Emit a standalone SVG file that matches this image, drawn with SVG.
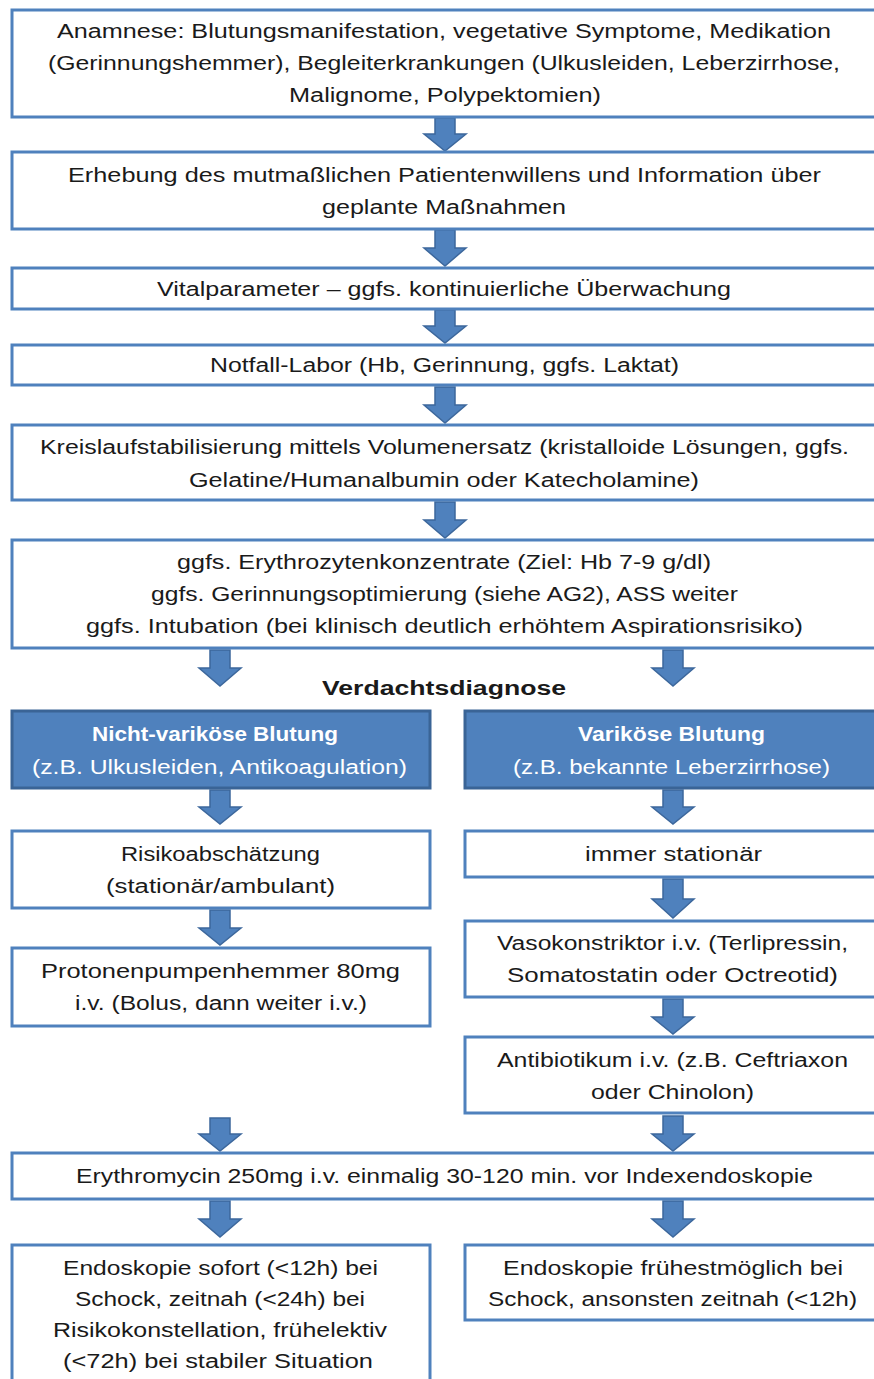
<svg xmlns="http://www.w3.org/2000/svg" width="874" height="1379" viewBox="0 0 874 1379">
<style>
.box{fill:#ffffff;stroke:#4f81bd;stroke-width:3}
.fbox{fill:#4f81bd;stroke:#3a6496;stroke-width:3}
.arr{fill:#4f81bd;stroke:#3c679c;stroke-width:1.5;stroke-linejoin:miter}
text{font-family:"Liberation Sans",Arial,sans-serif;font-size:20px;fill:#1a1a1a;text-anchor:middle}
.w{fill:#ffffff}
.b{font-weight:bold}
</style>
<rect width="874" height="1379" fill="#ffffff"/>
<g id="connectors">
<path class="arr" d="M435,118H455V134H466L445,151L424,134H435Z"/>
<path class="arr" d="M435,230H455V248H466L445,266L424,248H435Z"/>
<path class="arr" d="M435,310H455V326H466L445,343L424,326H435Z"/>
<path class="arr" d="M435,387H455V405H466L445,423L424,405H435Z"/>
<path class="arr" d="M435,502H455V520H466L445,538L424,520H435Z"/>
<path class="arr" d="M210,650H230V668H241L220,686L199,668H210Z"/>
<path class="arr" d="M663,650H683V668H694L673,686L652,668H663Z"/>
<path class="arr" d="M210,790H230V807H241L220,824L199,807H210Z"/>
<path class="arr" d="M663,790H683V807H694L673,824L652,807H663Z"/>
<path class="arr" d="M210,910H230V928H241L220,945L199,928H210Z"/>
<path class="arr" d="M663,879H683V899H694L673,918L652,899H663Z"/>
<path class="arr" d="M663,999H683V1017H694L673,1034L652,1017H663Z"/>
<path class="arr" d="M210,1118H230V1134H241L220,1151L199,1134H210Z"/>
<path class="arr" d="M663,1116H683V1134H694L673,1151L652,1134H663Z"/>
<path class="arr" d="M210,1201H230V1219H241L220,1237L199,1219H210Z"/>
<path class="arr" d="M663,1201H683V1219H694L673,1237L652,1219H663Z"/>
</g>
<g id="n1">
<rect class="box" x="12" y="10" width="872" height="107"/>
<text x="444" y="38" textLength="774" lengthAdjust="spacingAndGlyphs">Anamnese: Blutungsmanifestation, vegetative Symptome, Medikation</text>
<text x="444" y="70" textLength="792" lengthAdjust="spacingAndGlyphs">(Gerinnungshemmer), Begleiterkrankungen (Ulkusleiden, Leberzirrhose,</text>
<text x="445" y="102" textLength="312" lengthAdjust="spacingAndGlyphs">Malignome, Polypektomien)</text>
</g>
<g id="n2">
<rect class="box" x="12" y="152" width="872" height="77"/>
<text x="444.5" y="182" textLength="753" lengthAdjust="spacingAndGlyphs">Erhebung des mutmaßlichen Patientenwillens und Information über</text>
<text x="444" y="214" textLength="244" lengthAdjust="spacingAndGlyphs">geplante Maßnahmen</text>
</g>
<g id="n3">
<rect class="box" x="12" y="268" width="872" height="41"/>
<text x="444" y="296" textLength="574" lengthAdjust="spacingAndGlyphs">Vitalparameter – ggfs. kontinuierliche Überwachung</text>
</g>
<g id="n4">
<rect class="box" x="12" y="345" width="872" height="40"/>
<text x="444.5" y="372" textLength="469" lengthAdjust="spacingAndGlyphs">Notfall-Labor (Hb, Gerinnung, ggfs. Laktat)</text>
</g>
<g id="n5">
<rect class="box" x="12" y="425" width="872" height="75"/>
<text x="444.5" y="454" textLength="809" lengthAdjust="spacingAndGlyphs">Kreislaufstabilisierung mittels Volumenersatz (kristalloide Lösungen, ggfs.</text>
<text x="444" y="487" textLength="510" lengthAdjust="spacingAndGlyphs">Gelatine/Humanalbumin oder Katecholamine)</text>
</g>
<g id="n6">
<rect class="box" x="12" y="540" width="872" height="108"/>
<text x="444" y="569" textLength="534" lengthAdjust="spacingAndGlyphs">ggfs. Erythrozytenkonzentrate (Ziel: Hb 7-9 g/dl)</text>
<text x="444.5" y="601" textLength="587" lengthAdjust="spacingAndGlyphs">ggfs. Gerinnungsoptimierung (siehe AG2), ASS weiter</text>
<text x="444.5" y="633" textLength="717" lengthAdjust="spacingAndGlyphs">ggfs. Intubation (bei klinisch deutlich erhöhtem Aspirationsrisiko)</text>
</g>
<g id="label-verdacht">
<text class="b" x="444" y="695" textLength="244" lengthAdjust="spacingAndGlyphs">Verdachtsdiagnose</text>
</g>
<g id="n7">
<rect class="fbox" x="12" y="711" width="418" height="77"/>
<text class="w b" x="215" y="741" textLength="246" lengthAdjust="spacingAndGlyphs">Nicht-variköse Blutung</text>
<text class="w" x="219.5" y="774" textLength="375" lengthAdjust="spacingAndGlyphs">(z.B. Ulkusleiden, Antikoagulation)</text>
</g>
<g id="n8">
<rect class="fbox" x="465" y="711" width="420" height="77"/>
<text class="w b" x="671.5" y="741" textLength="187" lengthAdjust="spacingAndGlyphs">Variköse Blutung</text>
<text class="w" x="671.5" y="774" textLength="317" lengthAdjust="spacingAndGlyphs">(z.B. bekannte Leberzirrhose)</text>
</g>
<g id="n9">
<rect class="box" x="12" y="831" width="418" height="77"/>
<text x="220.5" y="861" textLength="199" lengthAdjust="spacingAndGlyphs">Risikoabschätzung</text>
<text x="220.5" y="893" textLength="229" lengthAdjust="spacingAndGlyphs">(stationär/ambulant)</text>
</g>
<g id="n10">
<rect class="box" x="465" y="831" width="420" height="46"/>
<text x="673.5" y="861" textLength="177" lengthAdjust="spacingAndGlyphs">immer stationär</text>
</g>
<g id="n11">
<rect class="box" x="12" y="948" width="418" height="78"/>
<text x="220.5" y="978" textLength="359" lengthAdjust="spacingAndGlyphs">Protonenpumpenhemmer  80mg</text>
<text x="221" y="1010" textLength="292" lengthAdjust="spacingAndGlyphs">i.v. (Bolus, dann weiter i.v.)</text>
</g>
<g id="n12">
<rect class="box" x="465" y="921" width="420" height="76"/>
<text x="672.5" y="950" textLength="351" lengthAdjust="spacingAndGlyphs">Vasokonstriktor i.v. (Terlipressin,</text>
<text x="672.5" y="982" textLength="331" lengthAdjust="spacingAndGlyphs">Somatostatin oder  Octreotid)</text>
</g>
<g id="n13">
<rect class="box" x="465" y="1037" width="420" height="76"/>
<text x="672.5" y="1067" textLength="351" lengthAdjust="spacingAndGlyphs">Antibiotikum i.v. (z.B. Ceftriaxon</text>
<text x="672.5" y="1099" textLength="163" lengthAdjust="spacingAndGlyphs">oder Chinolon)</text>
</g>
<g id="n14">
<rect class="box" x="12" y="1153" width="872" height="46"/>
<text x="444.5" y="1183" textLength="737" lengthAdjust="spacingAndGlyphs">Erythromycin 250mg i.v. einmalig 30-120 min. vor Indexendoskopie</text>
</g>
<g id="n15">
<rect class="box" x="12" y="1245" width="418" height="150"/>
<text x="220.5" y="1275" textLength="315" lengthAdjust="spacingAndGlyphs">Endoskopie sofort (&lt;12h) bei</text>
<text x="220" y="1306" textLength="290" lengthAdjust="spacingAndGlyphs">Schock, zeitnah (&lt;24h) bei</text>
<text x="220" y="1337" textLength="334" lengthAdjust="spacingAndGlyphs">Risikokonstellation, frühelektiv</text>
<text x="218" y="1368" textLength="310" lengthAdjust="spacingAndGlyphs">(&lt;72h) bei stabiler Situation</text>
</g>
<g id="n16">
<rect class="box" x="465" y="1245" width="420" height="75"/>
<text x="673" y="1275" textLength="340" lengthAdjust="spacingAndGlyphs">Endoskopie frühestmöglich bei</text>
<text x="672.5" y="1306" textLength="369" lengthAdjust="spacingAndGlyphs">Schock, ansonsten zeitnah (&lt;12h)</text>
</g>
</svg>
